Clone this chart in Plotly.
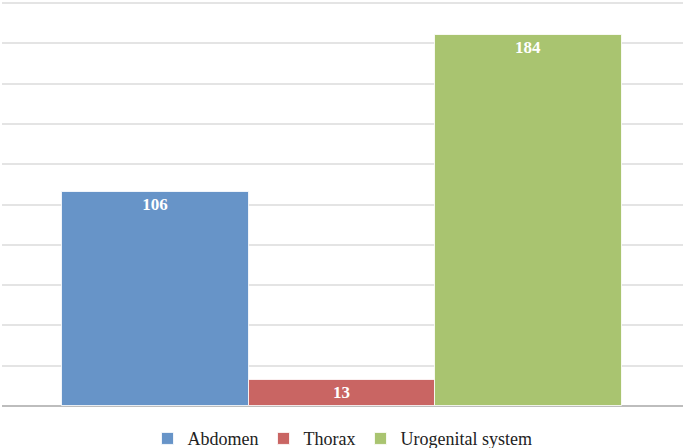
import plotly.graph_objects as go

categories = ["Abdomen", "Thorax", "Urogenital system"]
values = [106, 13, 184]
colors = ["#6794C8", "#C96563", "#A9C470"]

fig = go.Figure()
for cat, val, col in zip(categories, values, colors):
    fig.add_trace(go.Bar(
        x=[cat], y=[val], name=cat,
        marker=dict(color=col, line=dict(color="rgba(255,255,255,0.8)", width=1)),
        text=[str(val)], textposition="inside", insidetextanchor="end",
        textfont=dict(family="Liberation Serif", size=17, color="white", weight="bold"),
        textangle=0,
    ))

fig.update_layout(
    width=685, height=448,
    margin=dict(l=2, r=2, t=0, b=42, autoexpand=False),
    paper_bgcolor="white", plot_bgcolor="white",
    barmode="overlay", bargap=0,
    showlegend=True,
    legend=dict(orientation="h", x=0.5, xanchor="center", yref="container",
                y=0.062, yanchor="top",
                font=dict(family="Liberation Serif", size=18, color="#222222"),
                itemclick=False),
    xaxis=dict(range=[-0.8214, 2.827], showticklabels=False, showgrid=False,
               zeroline=False, showline=False, ticks=""),
    yaxis=dict(range=[0, 201.5], tick0=0, dtick=20, showticklabels=False, showgrid=True,
               gridcolor="#e4e4e4", gridwidth=1.5, zeroline=True,
               zerolinecolor="#bdbdbd", zerolinewidth=2, ticks=""),
)
fig.write_html("out.html", config={"displayModeBar": False},
               post_script="document.body.style.margin='0';document.body.style.overflow='hidden';")
